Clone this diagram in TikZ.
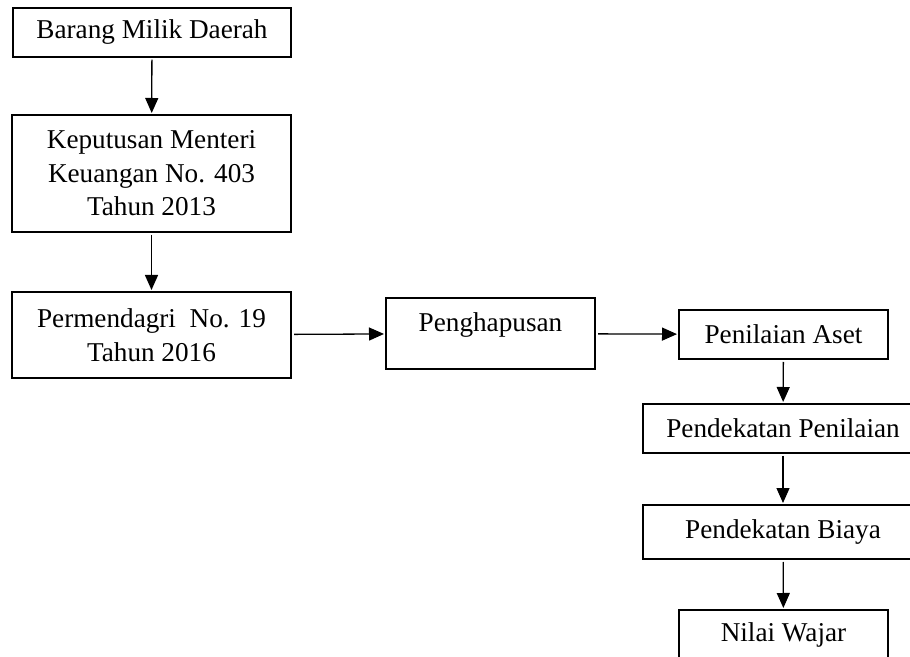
\documentclass[tikz,border=0pt]{standalone}
\usepackage{fontspec}
\setmainfont{Liberation Serif}
\usetikzlibrary{arrows.meta}

\begin{document}
\begin{tikzpicture}[x=0.5pt, y=-0.5pt,
    box/.style={draw, rectangle, line width=1pt, inner sep=0pt, align=center,
        font=\fontsize{13.6}{16.8}\selectfont},
    thinbox/.style={box, line width=0.65pt},
    arc/.style={draw, line width=0.65pt, -{Triangle[width=6.5pt,length=7.5pt]},
        shorten >=0.5pt, shorten <=1pt}
    ]
    \clip (0,0) rectangle (910,657);

    % Left column
    \node[thinbox, minimum width=139pt, minimum height=24.5pt, at={(152,32.5)}, name=bmd]
        {Barang Milik Daerah};
    \node[box, minimum width=139.5pt, minimum height=58.5pt, at={(151.5,173.5)}, name=kmk]
        {Keputusan Menteri\\Keuangan No. 403\\Tahun 2013};
    \node[box, minimum width=139.5pt, minimum height=43pt, at={(151.5,335)}, name=perm]
        {Permendagri\ \ No. 19\\Tahun 2016};

    % Middle
    \node[box, minimum width=104.5pt, minimum height=35.5pt, text depth=11.4pt,
        at={(490.5,333.5)}, name=hapus] {Penghapusan};

    % Right column
    \node[box, minimum width=104.5pt, minimum height=24.5pt, at={(783.5,334.5)}, name=aset]
        {Penilaian Aset};
    \node[box, minimum width=140pt, minimum height=24.5pt, at={(783,428.5)}, name=pend]
        {Pendekatan Penilaian};
    \node[box, minimum width=140pt, minimum height=27pt, at={(783,532)}, name=biaya]
        {Pendekatan Biaya};
    \node[box, minimum width=104.5pt, minimum height=24.5pt, at={(783.5,634.5)}, name=wajar]
        {Nilai Wajar};

    % Connectors
    \foreach \from/\to in {bmd/kmk, kmk/perm, perm/hapus, hapus/aset, aset/pend, pend/biaya, biaya/wajar}
        \draw[arc] (\from) -- (\to);
\end{tikzpicture}
\end{document}
